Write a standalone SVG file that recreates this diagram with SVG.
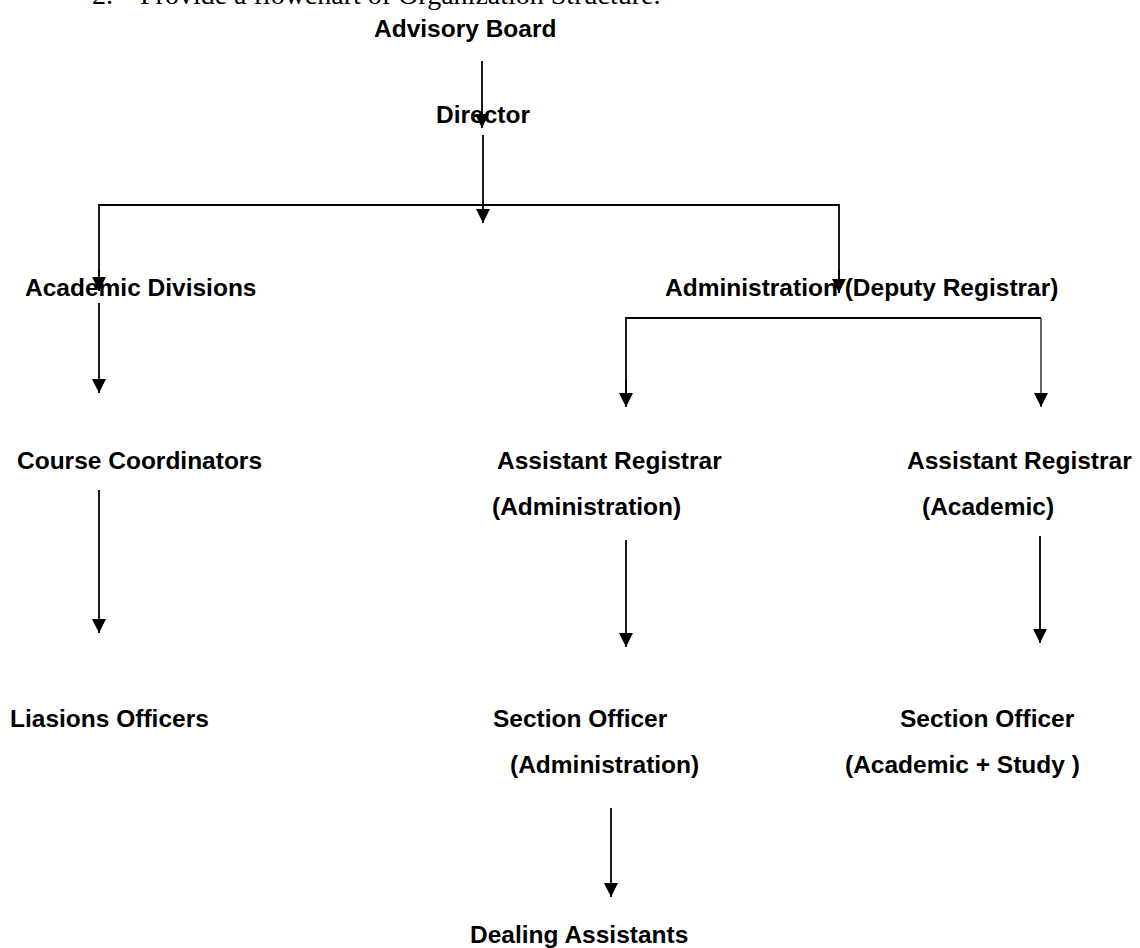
<svg xmlns="http://www.w3.org/2000/svg" width="1140" height="948" viewBox="0 0 1140 948">
<style>
.t{font-family:"Liberation Sans",Arial,sans-serif;font-weight:bold;font-size:24.5px;fill:#000}
.title{font-family:"Liberation Serif","Times New Roman",serif;font-size:28px;fill:#000}
.c{stroke:#000;stroke-width:1.8;fill:none}
.a{marker-end:url(#ah)}
</style>
<defs>
<marker id="ah" viewBox="0 0 10 10" refX="10" refY="5" markerUnits="userSpaceOnUse" markerWidth="16" markerHeight="14" orient="auto">
<path d="M0,0 L10,5 L0,10 z" fill="#000"/>
</marker>
</defs>
<rect width="1140" height="948" fill="#fff"/>
<text class="title" y="4"><tspan x="92">2.</tspan><tspan x="140">Provide a flowchart of Organization Structure.</tspan></text>
<g id="connectors">
<line class="c a" x1="482" y1="61" x2="482" y2="128"/>
<line class="c a" x1="483" y1="135" x2="483" y2="223"/>
<polyline class="c" points="99,290 99,205 839,205 839,293"/>
<line class="c a" x1="99" y1="270" x2="99" y2="291"/>
<line class="c a" x1="839" y1="270" x2="839" y2="293"/>
<line class="c a" x1="99" y1="303" x2="99" y2="393"/>
<polyline class="c" points="626,400 626,318 1041,318"/>
<line class="c a" x1="626" y1="380" x2="626" y2="407"/>
<line x1="1041" y1="318" x2="1041" y2="407" stroke="#000" stroke-width="1.2" marker-end="url(#ah)"/>
<line class="c a" x1="99" y1="490" x2="99" y2="633"/>
<line class="c a" x1="626" y1="540" x2="626" y2="647"/>
<line class="c a" x1="1040" y1="536" x2="1040" y2="643"/>
<line class="c a" x1="611" y1="808" x2="611" y2="897"/>
</g>
<g id="advisory-board"><text class="t" x="374" y="37">Advisory Board</text></g>
<g id="director"><text class="t" x="436" y="123">Director</text></g>
<g id="academic-divisions"><text class="t" x="25" y="296">Academic Divisions</text></g>
<g id="administration"><text class="t" x="665" y="296">Administration (Deputy Registrar)</text></g>
<g id="course-coordinators"><text class="t" x="17" y="469">Course Coordinators</text></g>
<g id="ar-administration"><text class="t" x="497" y="469">Assistant Registrar</text><text class="t" x="492" y="515">(Administration)</text></g>
<g id="ar-academic"><text class="t" x="907" y="469">Assistant Registrar</text><text class="t" x="922" y="515">(Academic)</text></g>
<g id="liasions-officers"><text class="t" x="10" y="727">Liasions Officers</text></g>
<g id="so-administration"><text class="t" x="493" y="727">Section Officer</text><text class="t" x="510" y="773">(Administration)</text></g>
<g id="so-academic"><text class="t" x="900" y="727">Section Officer</text><text class="t" x="845" y="773">(Academic + Study )</text></g>
<g id="dealing-assistants"><text class="t" x="470" y="943">Dealing Assistants</text></g>
</svg>
